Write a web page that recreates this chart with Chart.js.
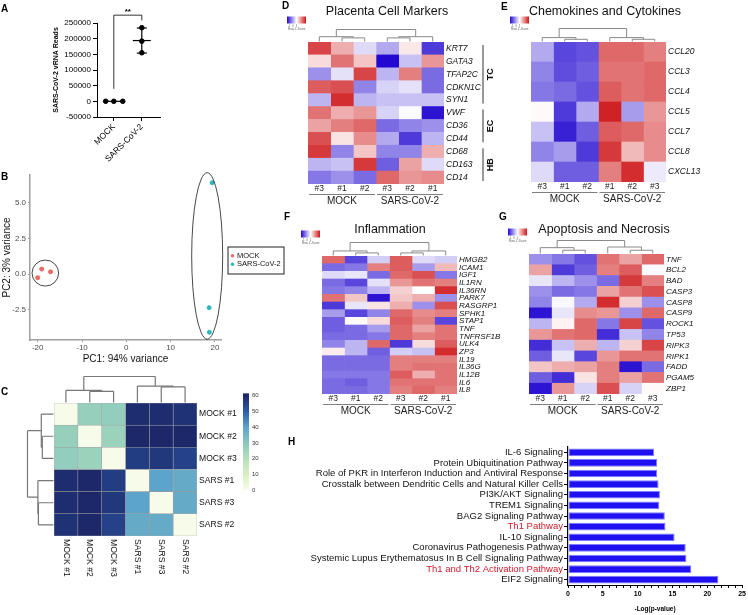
<!DOCTYPE html>
<html>
<head>
<meta charset="utf-8">
<script src="https://cdn.jsdelivr.net/npm/chart.js@4.4.1/dist/chart.umd.min.js"></script>
<style>
  body { margin: 0; background: #fff; }
  #fig { position: relative; width: 748px; height: 615px; overflow: hidden; font-family: 'Liberation Sans', Arial, sans-serif; }
  .box { position: absolute; }
  .lbl { position: absolute; font-weight: bold; font-size: 10px; line-height: 12px; color: #000; }
  .ttl { position: absolute; width: 300px; text-align: center; font-size: 12.5px; line-height: 14px; color: #111; }
</style>
</head>
<body>
<div id="fig">
  <div class="box" id="boxA"><canvas></canvas></div>
  <div class="box" id="boxB"><canvas></canvas></div>
  <div class="box" id="boxC"><canvas></canvas></div>
  <div class="box" id="boxD"><canvas></canvas></div>
  <div class="box" id="boxE"><canvas></canvas></div>
  <div class="box" id="boxF"><canvas></canvas></div>
  <div class="box" id="boxG"><canvas></canvas></div>
  <div class="box" id="boxH"><canvas></canvas></div>

  <div class="lbl" style="left:1px;top:3px">A</div>
  <div class="lbl" style="left:1px;top:171px">B</div>
  <div class="lbl" style="left:1px;top:386px">C</div>
  <div class="lbl" style="left:282px;top:0px">D</div>
  <div class="lbl" style="left:501px;top:1px">E</div>
  <div class="lbl" style="left:284px;top:211px">F</div>
  <div class="lbl" style="left:499px;top:211px">G</div>
  <div class="lbl" style="left:288px;top:436px">H</div>

  <div class="ttl" style="left:237px;top:4px">Placenta Cell Markers</div>
  <div class="ttl" style="left:455px;top:4px">Chemokines and Cytokines</div>
  <div class="ttl" style="left:240px;top:222px">Inflammation</div>
  <div class="ttl" style="left:454px;top:222px">Apoptosis and Necrosis</div>
</div>

<script>
// ---- A: vRNA reads
const groupsA = ['MOCK', 'SARS-CoV-2'];
const mockReads = [150, 60, 110];
const sarsReads = [235000, 192000, 155000];
const jitterA = [[-0.29, 0, 0.32], [0, 0, 0]];
const readTicks = [-50000, 0, 50000, 100000, 150000, 200000, 250000];

// ---- B: PCA
const mockPC1 = [-20.0, -19.1, -17.1];
const mockPC2 = [-0.24, 0.36, 0.17];
const sarsPC1 = [19.4, 18.7, 18.75];
const sarsPC2 = [6.4, -2.34, -4.06];
const mockEllipse = [-18.28, 0.08, 3.0, 0.91]; // cx, cy, rx, ry
const sarsEllipse = [18.26, 1.28, 3.5, 5.82];
const pcTicksX = [-20, -10, 0, 10, 20];
const pcTicksY = [-2.5, 0, 2.5, 5.0];

// ---- C: sample distances
const samplesC = ['MOCK #1', 'MOCK #2', 'MOCK #3', 'SARS #1', 'SARS #3', 'SARS #2'];
const distC = [
  [0, 27, 28, 59, 59, 58],
  [27, 0, 26, 61, 61, 60],
  [28, 26, 0, 56, 57, 55],
  [59, 61, 56, 0, 40, 38],
  [59, 61, 57, 40, 0, 38],
  [58, 60, 55, 38, 38, 0],
];
const distTicks = [0, 10, 20, 30, 40, 50, 60];

// ---- D: placenta cell markers
const colsD = ['#3', '#1', '#2', '#3', '#2', '#1'];
const genesD = ['KRT7', 'GATA3', 'TFAP2C', 'CDKN1C', 'SYN1', 'VWF', 'CD36', 'CD44', 'CD68', 'CD163', 'CD14'];
const zD = [
  [0.8, 0.35, -0.15, -0.35, 0.1, -0.8],
  [0.15, 0.6, 0.25, -1.0, -0.25, 0.45],
  [-0.45, -0.12, 0.8, -0.3, 0.55, -0.6],
  [0.7, 0.75, -0.5, -0.18, -0.12, -0.6],
  [-0.3, 0.9, -0.3, -0.25, -0.25, -0.25],
  [0.6, 0.35, 0.45, -0.18, -0.02, -0.95],
  [0.4, 0.55, 0.65, -0.6, -0.5, -0.45],
  [0.75, 0.12, 0.5, -0.35, -0.8, -0.3],
  [0.85, -0.5, 0.25, -0.5, -0.5, 0.35],
  [-0.3, -0.25, 0.85, -0.65, 0.4, -0.15],
  [-0.55, -0.45, -0.6, 0.65, 0.45, 0.5],
];
const cellTypesD = [['TC', 0, 4], ['EC', 5, 7], ['HB', 8, 10]];

// ---- E: chemokines and cytokines
const colsE = ['#3', '#1', '#2', '#1', '#2', '#3'];
const genesE = ['CCL20', 'CCL3', 'CCL4', 'CCL5', 'CCL7', 'CCL8', 'CXCL13'];
const zE = [
  [-0.35, -0.75, -0.7, 0.65, 0.65, 0.55],
  [-0.5, -0.72, -0.65, 0.6, 0.6, 0.65],
  [-0.55, -0.6, -0.7, 0.7, 0.6, 0.65],
  [0.02, -0.8, -0.35, 0.95, -0.4, 0.45],
  [-0.25, -0.9, -0.65, 0.7, 0.65, 0.5],
  [-0.5, -0.4, -0.8, 0.85, 0.3, 0.5],
  [-0.15, -0.65, -0.65, 0.55, 0.9, -0.08],
];

// ---- F: inflammation
const colsF = ['#3', '#1', '#2', '#3', '#2', '#1'];
const genesF = ['HMGB2', 'ICAM1', 'IGF1', 'IL1RN', 'IL36RN', 'PARK7', 'RASGRP1', 'SPHK1', 'STAP1', 'TNF',
  'TNFRSF1B', 'ULK4', 'ZP3', 'IL19', 'IL36G', 'IL12B', 'IL6', 'IL8'];
const zF = [
  [0.65, -0.75, -0.2, 0.7, -0.15, -0.2],
  [-0.6, -0.55, 0.55, 0.7, -0.4, 0.3],
  [-0.15, -0.1, -0.6, 0.65, 0.75, -0.55],
  [-0.6, -0.75, -0.12, 0.45, 0.6, 0.55],
  [-0.55, -0.5, -0.3, 0.2, 0.0, 0.9],
  [0.6, 0.25, -0.95, 0.25, 0.35, -0.45],
  [-0.8, -0.1, 0.12, 0.35, -0.45, 0.75],
  [-0.4, -0.75, -0.5, 0.65, 0.5, 0.55],
  [-0.65, 0.02, 0.15, 0.7, 0.55, -0.75],
  [-0.65, -0.6, -0.4, 0.65, 0.4, 0.6],
  [-0.6, -0.6, -0.55, 0.65, 0.55, 0.6],
  [-0.5, -0.3, 0.65, -0.8, 0.15, 0.7],
  [0.08, -0.3, -0.65, -0.2, -0.25, 0.9],
  [-0.6, -0.6, -0.6, 0.55, 0.55, 0.55],
  [-0.6, -0.6, -0.6, 0.55, 0.6, 0.6],
  [-0.55, -0.55, -0.55, 0.7, 0.35, 0.6],
  [-0.6, -0.65, -0.55, 0.6, 0.6, 0.6],
  [-0.6, -0.6, -0.55, 0.55, 0.65, 0.55],
];

// ---- G: apoptosis and necrosis
const colsG = ['#3', '#1', '#2', '#1', '#2', '#3'];
const genesG = ['TNF', 'BCL2', 'BAD', 'CASP3', 'CASP8', 'CASP9', 'ROCK1', 'TP53', 'RIPK3', 'RIPK1', 'FADD', 'PGAM5', 'ZBP1'];
const zG = [
  [-0.45, -0.55, -0.7, 0.6, 0.4, 0.65],
  [0.4, -0.8, -0.65, 0.55, 0.7, -0.02],
  [-0.1, -0.3, -0.45, -0.6, 0.85, 0.55],
  [-0.45, -0.6, -0.55, 0.4, 0.6, 0.75],
  [-0.5, -0.03, -0.35, 0.9, 0.2, -0.45],
  [-0.95, -0.1, 0.5, 0.45, -0.45, 0.65],
  [-0.3, 0.05, 0.65, -0.55, 0.8, -0.7],
  [0.45, 0.6, 0.65, -0.85, -0.25, -0.5],
  [-0.85, -0.25, 0.35, -0.3, 0.2, 0.8],
  [-0.65, -0.1, -0.75, 0.45, 0.6, 0.6],
  [0.25, 0.35, 0.4, 0.55, -0.95, -0.6],
  [-0.65, -0.85, 0.12, 0.55, 0.4, 0.6],
  [-0.95, 0.45, -0.18, 0.75, -0.18, 0.02],
];

// ---- H: pathways
const pathways = ['IL-6 Signaling', 'Protein Ubiquitination Pathway',
  'Role of PKR in Interferon Induction and Antiviral Response',
  'Crosstalk between Dendritic Cells and Natural Killer Cells', 'PI3K/AKT Signaling', 'TREM1 Signaling',
  'BAG2 Signaling Pathway', 'Th1 Pathway', 'IL-10 Signaling', 'Coronavirus Pathogenesis Pathway',
  'Systemic Lupus Erythematosus In B Cell Signaling Pathway', 'Th1 and Th2 Activation Pathway', 'EIF2 Signaling'];
const pathwayScores = [12.35, 12.8, 12.8, 13.0, 13.2, 13.1, 13.9, 14.0, 15.3, 16.9, 17.0, 17.7, 21.6];
const redPaths = ['Th1 Pathway', 'Th1 and Th2 Activation Pathway'];

const FONT = "'Liberation Sans', Arial, sans-serif";
Chart.defaults.font.family = FONT;
Chart.defaults.color = '#111';
Chart.defaults.animation = false;
Chart.defaults.responsive = true;
Chart.defaults.maintainAspectRatio = false;
Chart.defaults.plugins.legend.display = false;
Chart.defaults.plugins.tooltip.enabled = false;

function place(id, box) {
  const el = document.getElementById(id);
  el.style.left = box[0] + 'px';
  el.style.top = box[1] + 'px';
  el.style.width = box[2] + 'px';
  el.style.height = box[3] + 'px';
  return el.querySelector('canvas');
}

function zColor(v) {
  const t = Math.min(1, Math.abs(v));
  const end = v < 0 ? [34, 8, 208] : [206, 22, 24];
  const c = end.map(e => Math.round(255 + (e - 255) * t));
  return 'rgb(' + c.join(',') + ')';
}

const ylgnbu = [[0, [247, 252, 234]], [10, [218, 240, 192]], [20, [181, 224, 186]], [30, [138, 200, 190]],
  [40, [92, 164, 203]], [50, [45, 92, 165]], [60, [28, 40, 106]]];
function distColor(v) {
  for (let k = 1; k < ylgnbu.length; k++) {
    const [v1, c1] = ylgnbu[k];
    const [v0, c0] = ylgnbu[k - 1];
    if (v <= v1 || k === ylgnbu.length - 1) {
      const t = Math.max(0, Math.min(1, (v - v0) / (v1 - v0)));
      return 'rgb(' + c0.map((c, i) => Math.round(c + (c1[i] - c) * t)).join(',') + ')';
    }
  }
}

function mean(a) { return a.reduce((s, v) => s + v, 0) / a.length; }
function sd(a) { const m = mean(a); return Math.sqrt(a.reduce((s, v) => s + (v - m) ** 2, 0) / (a.length - 1)); }

// dendrogram: node = leaf index or [left, right, height fraction]
function drawTree(ctx, node, pos, base, size, horiz) {
  if (typeof node === 'number') return { p: pos(node), h: 0 };
  const a = drawTree(ctx, node[0], pos, base, size, horiz);
  const b = drawTree(ctx, node[1], pos, base, size, horiz);
  const h = node[2] * size;
  const seg = (p1, h1, p2, h2) => {
    if (horiz) { ctx.moveTo(base - h1, p1); ctx.lineTo(base - h2, p2); }
    else { ctx.moveTo(p1, base - h1); ctx.lineTo(p2, base - h2); }
  };
  ctx.beginPath();
  seg(a.p, a.h, a.p, h);
  seg(a.p, h, b.p, h);
  seg(b.p, h, b.p, b.h);
  ctx.stroke();
  return { p: (a.p + b.p) / 2, h };
}

function heatmap(id, cfg) {
  const [L, T, W, H] = cfg.box;
  const [x0, y0, x1, y1] = cfg.area;
  const n = cfg.cols.length;
  const showCols = cfg.showCols !== false;
  const axisH = showCols ? 13 : 0;

  const decor = {
    id: 'heatDecor',
    afterDraw(chart) {
      const { ctx, chartArea: a, scales: { x, y } } = chart;
      const colX = j => x.getPixelForValue(j + 0.5);
      const rowY = i => y.getPixelForValue(i);
      const rowH = (a.bottom - a.top) / cfg.rows.length;
      ctx.save();
      ctx.strokeStyle = cfg.treeColor || '#8a8a8a';
      ctx.lineWidth = cfg.treeWidth || 1;
      if (cfg.colTree) drawTree(ctx, cfg.colTree, colX, a.top - 0.5, cfg.treeH, false);
      if (cfg.rowTree) drawTree(ctx, cfg.rowTree, rowY, a.left - 0.5, cfg.treeH, true);

      if (cfg.groups) {
        ctx.strokeStyle = '#808080';
        ctx.lineWidth = 1;
        ctx.fillStyle = '#222';
        ctx.font = '10px ' + FONT;
        ctx.textAlign = 'center';
        ctx.textBaseline = 'middle';
        cfg.groups.forEach(([name, from, to]) => {
          const l = x.getPixelForValue(from) + 1, r = x.getPixelForValue(to) - 1;
          ctx.beginPath();
          ctx.moveTo(l, a.bottom + 10.5);
          ctx.lineTo(r, a.bottom + 10.5);
          ctx.stroke();
          ctx.fillText(name, (l + r) / 2, a.bottom + 17.5);
        });
      }

      if (cfg.brackets) {
        const bx = a.right + 39;
        ctx.strokeStyle = '#333';
        ctx.fillStyle = '#111';
        ctx.font = 'bold 9px ' + FONT;
        ctx.textAlign = 'center';
        ctx.textBaseline = 'middle';
        cfg.brackets.forEach(([name, from, to]) => {
          const t = rowY(from) - rowH / 2 + 3, b = rowY(to) + rowH / 2 - 3;
          ctx.beginPath();
          ctx.moveTo(bx, t);
          ctx.lineTo(bx, b);
          ctx.stroke();
          ctx.save();
          ctx.translate(bx + 8, (t + b) / 2);
          ctx.rotate(-Math.PI / 2);
          ctx.fillText(name, 0, 0);
          ctx.restore();
        });
      }

      if (cfg.zKey) {
        const kx = a.left - 21, ky = a.top - 25.5;
        const g = ctx.createLinearGradient(kx, 0, kx + 19, 0);
        g.addColorStop(0, zColor(-1));
        g.addColorStop(0.5, '#ffffff');
        g.addColorStop(1, zColor(1));
        ctx.fillStyle = g;
        ctx.fillRect(kx, ky, 19, 7);
        ctx.fillStyle = '#666';
        ctx.font = '3px ' + FONT;
        ctx.textAlign = 'left';
        ctx.textBaseline = 'top';
        ctx.fillText('-1  0  1', kx + 1, ky + 8);
        ctx.fillText('Row Z-Score', kx + 1, ky + 11.5);
      }

      if (cfg.rotatedCols) {
        ctx.fillStyle = '#111';
        ctx.font = '8.6px ' + FONT;
        ctx.textAlign = 'left';
        ctx.textBaseline = 'middle';
        cfg.cols.forEach((c, j) => {
          ctx.save();
          ctx.translate(colX(j), a.bottom + 3);
          ctx.rotate(Math.PI / 2);
          ctx.fillText(c, 0, 0);
          ctx.restore();
        });
      }

      if (cfg.colorbar) {
        const cx = a.right + 46;
        const yOf = v => a.top + 87 - v * (94.3 / 60);
        const g = ctx.createLinearGradient(0, yOf(0), 0, yOf(60));
        cfg.colorbar.forEach(v => g.addColorStop(v / 60, distColor(v)));
        ctx.fillStyle = g;
        ctx.fillRect(cx, yOf(61.5), 6, yOf(0) - yOf(61.5));
        ctx.fillStyle = '#333';
        ctx.font = '6px ' + FONT;
        ctx.textAlign = 'left';
        ctx.textBaseline = 'middle';
        cfg.colorbar.forEach(v => ctx.fillText(String(v), cx + 9, yOf(v)));
      }
      ctx.restore();
    }
  };

  const datasets = cfg.cols.map((c, j) => ({
    data: cfg.rows.map(() => [j, j + 1]),
    backgroundColor: cfg.rows.map((r, i) => cfg.color(cfg.values[i][j])),
    borderColor: cfg.cellBorder || 'rgba(0,0,0,0)',
    borderWidth: cfg.cellBorder ? 0.6 : 0,
    borderSkipped: false,
    grouped: false,
    barPercentage: 1,
    categoryPercentage: 1,
  }));

  return new Chart(place(id, cfg.box), {
    type: 'bar',
    data: { labels: cfg.rows, datasets },
    options: {
      indexAxis: 'y',
      layout: { padding: { left: x0 - L, top: y0 - T, right: 0, bottom: T + H - y1 - axisH } },
      scales: {
        x: {
          type: 'linear', min: 0, max: n, position: 'bottom', display: showCols,
          grid: { display: false, drawTicks: false, tickLength: 0 }, border: { display: false },
          afterBuildTicks: s => { s.ticks = cfg.cols.map((c, i) => ({ value: i + 0.5 })); },
          afterFit: s => { s.height = axisH; },
          ticks: { padding: 0, autoSkip: false, maxRotation: 0, font: { size: 8.5 }, color: '#222',
            callback: (v, i) => cfg.cols[i] },
        },
        y: {
          position: 'right', grid: { display: false, drawTicks: false, tickLength: 0 }, border: { display: false },
          afterFit: s => { s.width = L + W - x1; },
          ticks: { padding: 2, autoSkip: false, color: '#111',
            font: { size: cfg.rowFont, style: cfg.italic ? 'italic' : 'normal' } },
        },
      },
    },
    plugins: [decor],
  });
}

// ---------- A
const errorBars = {
  id: 'errorBars',
  afterDatasetsDraw(chart) {
    const { ctx, scales: { x, y } } = chart;
    ctx.save();
    ctx.strokeStyle = '#000';
    ctx.lineWidth = 1.2;
    const ln = (a, b, c, d) => { ctx.beginPath(); ctx.moveTo(a, b); ctx.lineTo(c, d); ctx.stroke(); };
    [mockReads, sarsReads].forEach((vals, g) => {
      const m = mean(vals), s = sd(vals);
      const cx = x.getPixelForValue(g + 1);
      ln(cx - 9, y.getPixelForValue(m), cx + 9, y.getPixelForValue(m));
      if (s > 1000) {
        const yt = y.getPixelForValue(m + s), yb = y.getPixelForValue(m - s);
        ln(cx, yt, cx, yb);
        ln(cx - 5, yt, cx + 5, yt);
        ln(cx - 5, yb, cx + 5, yb);
      }
    });
    // significance bracket
    ctx.lineWidth = 0.8;
    const x1 = x.getPixelForValue(1), x2 = x.getPixelForValue(2);
    const top = y.getPixelForValue(275000);
    ctx.beginPath();
    ctx.moveTo(x1, y.getPixelForValue(40000));
    ctx.lineTo(x1, top);
    ctx.lineTo(x2, top);
    ctx.lineTo(x2, y.getPixelForValue(258000));
    ctx.stroke();
    ctx.fillStyle = '#000';
    ctx.font = 'bold 8px ' + FONT;
    ctx.textAlign = 'center';
    ctx.textBaseline = 'middle';
    ctx.fillText('**', (x1 + x2) / 2, top - 3);
    ctx.restore();
  }
};

new Chart(place('boxA', [0, 0, 200, 165]), {
  type: 'scatter',
  data: {
    datasets: [mockReads, sarsReads].map((vals, g) => ({
      label: groupsA[g],
      data: vals.map((v, i) => ({ x: g + 1 + jitterA[g][i], y: v })),
      pointRadius: 2.3, backgroundColor: '#000', borderColor: '#000',
    })),
  },
  options: {
    layout: { padding: { left: 52, top: 23, right: 40, bottom: 0 } },
    scales: {
      x: {
        type: 'linear', min: 0.4, max: 2.65,
        afterBuildTicks: s => { s.ticks = [{ value: 1 }, { value: 2 }]; },
        afterFit: s => { s.height = 48; },
        ticks: { callback: (v, i) => groupsA[i], minRotation: 45, maxRotation: 45, autoSkip: false,
          font: { size: 8.5 }, color: '#000', padding: 1 },
        grid: { drawOnChartArea: false, tickLength: 4, color: '#000' },
        border: { color: '#000', width: 1 },
      },
      y: {
        min: -50000, max: 250000,
        afterBuildTicks: s => { s.ticks = readTicks.map(value => ({ value })); },
        afterFit: s => { s.width = 45; },
        ticks: { callback: v => String(v), font: { size: 8 }, color: '#000', padding: 2 },
        grid: { drawOnChartArea: false, tickLength: 4, color: '#000' },
        border: { color: '#000', width: 1 },
        title: { display: true, text: 'SARS-CoV-2 vRNA Reads', font: { size: 7, weight: 'bold' }, color: '#000', padding: 0 },
      },
    },
  },
  plugins: [errorBars],
});

// ---------- B
const pcaDecor = {
  id: 'pcaDecor',
  afterDraw(chart) {
    const { ctx, chartArea: a, scales: { x, y } } = chart;
    ctx.save();
    ctx.strokeStyle = '#333';
    ctx.lineWidth = 0.9;
    [mockEllipse, sarsEllipse].forEach(([cx, cy, rx, ry]) => {
      const px = x.getPixelForValue(cx), py = y.getPixelForValue(cy);
      const prx = Math.abs(x.getPixelForValue(cx + rx) - px);
      const pry = Math.abs(y.getPixelForValue(cy + ry) - py);
      ctx.beginPath();
      ctx.ellipse(px, py, prx, pry, 0, 0, Math.PI * 2);
      ctx.stroke();
    });
    // legend box
    const lx = a.right + 7, ly = 87;
    ctx.strokeStyle = '#222';
    ctx.lineWidth = 1;
    ctx.strokeRect(lx, ly, 56, 27);
    ctx.font = '7.5px ' + FONT;
    ctx.textAlign = 'left';
    ctx.textBaseline = 'middle';
    chart.data.datasets.forEach((ds, i) => {
      const yy = ly + 8.7 + i * 8.6;
      ctx.fillStyle = ds.backgroundColor;
      ctx.beginPath();
      ctx.arc(lx + 4.5, yy, 1.7, 0, Math.PI * 2);
      ctx.fill();
      ctx.fillStyle = '#111';
      ctx.fillText(ds.label, lx + 9, yy);
    });
    ctx.restore();
  }
};

new Chart(place('boxB', [0, 160, 290, 215]), {
  type: 'scatter',
  data: {
    datasets: [
      { label: 'MOCK', data: mockPC1.map((v, i) => ({ x: v, y: mockPC2[i] })),
        backgroundColor: '#f0675e', borderColor: '#f0675e', pointRadius: 2 },
      { label: 'SARS-CoV-2', data: sarsPC1.map((v, i) => ({ x: v, y: sarsPC2[i] })),
        backgroundColor: '#2bb8bb', borderColor: '#2bb8bb', pointRadius: 2 },
    ],
  },
  options: {
    layout: { padding: { left: 0, top: 15, right: 69, bottom: 10 } },
    scales: {
      x: {
        min: -21.74, max: 21.38,
        afterBuildTicks: s => { s.ticks = pcTicksX.map(value => ({ value })); },
        afterFit: s => { s.height = 25; },
        ticks: { font: { size: 8 }, color: '#4d4d4d', padding: 1 },
        grid: { drawOnChartArea: false, tickLength: 2, color: '#999' },
        border: { color: '#a0a0a0', width: 1.5 },
        title: { display: true, text: 'PC1: 94% variance', font: { size: 10 }, color: '#111', padding: 0 },
      },
      y: {
        min: -4.6, max: 6.94,
        afterBuildTicks: s => { s.ticks = pcTicksY.map(value => ({ value })); },
        afterFit: s => { s.width = 30; },
        ticks: { callback: v => v.toFixed(1), font: { size: 8 }, color: '#4d4d4d', padding: 2 },
        grid: { drawOnChartArea: false, tickLength: 2, color: '#999' },
        border: { color: '#a0a0a0', width: 1.5 },
        title: { display: true, text: 'PC2: 3% variance', font: { size: 10 }, color: '#111', padding: { top: 1, bottom: 0 } },
      },
    },
  },
  plugins: [pcaDecor],
});

// ---------- C
heatmap('boxC', {
  box: [0, 368, 270, 247], area: [54, 403, 197, 536],
  rows: samplesC, cols: samplesC, values: distC, color: distColor,
  cellBorder: 'rgba(140,140,140,0.7)', showCols: false, rotatedCols: true,
  rowFont: 8.6, italic: false,
  colTree: [[0, [1, 2, 0.43], 0.47], [3, [4, 5, 0.6], 0.63], 1],
  rowTree: [[0, [1, 2, 0.43], 0.47], [3, [4, 5, 0.58], 0.6], 1],
  treeH: 26, treeColor: '#777', treeWidth: 1.2,
  colorbar: distTicks,
});

// ---------- D
const groupsMS = [['MOCK', 0, 3], ['SARS-CoV-2', 3, 6]];
heatmap('boxD', {
  box: [280, 0, 220, 215], area: [308, 42, 444, 184],
  rows: genesD, cols: colsD, values: zD, color: zColor,
  rowFont: 8.5, italic: true, groups: groupsMS, brackets: cellTypesD, zKey: true,
  colTree: [[0, [1, 2, 0.3], 0.4], [[3, 4, 0.3], 5, 0.4], 1], treeH: 12,
});

// ---------- E
heatmap('boxE', {
  box: [500, 0, 248, 215], area: [531, 42, 666, 182],
  rows: genesE, cols: colsE, values: zE, color: zColor,
  rowFont: 8.5, italic: true, groups: groupsMS, zKey: true,
  colTree: [[0, [1, 2, 0.17], 0.3], [3, [4, 5, 0.17], 0.3], 1], treeH: 13,
});

// ---------- F
heatmap('boxF', {
  box: [290, 222, 215, 200], area: [322, 256, 457, 394],
  rows: genesF, cols: colsF, values: zF, color: zColor,
  rowFont: 8, italic: true, groups: groupsMS, zKey: true,
  colTree: [[0, [1, 2, 0.2], 0.35], [[3, 4, 0.2], 5, 0.35], 1], treeH: 13,
});

// ---------- G
heatmap('boxG', {
  box: [505, 222, 243, 200], area: [529, 254, 664, 394],
  rows: genesG, cols: colsG, values: zG, color: zColor,
  rowFont: 8, italic: true, groups: groupsMS, zKey: true,
  colTree: [[0, [1, 2, 0.25], 0.45], [3, [4, 5, 0.25], 0.5], 1], treeH: 13,
});

// ---------- H
new Chart(place('boxH', [270, 440, 478, 175]), {
  type: 'bar',
  data: {
    labels: pathways,
    datasets: [{
      data: pathwayScores, backgroundColor: '#1f10f2', borderColor: '#7c7cff', borderWidth: 1,
      borderSkipped: false, barPercentage: 0.72, categoryPercentage: 1,
    }],
  },
  options: {
    indexAxis: 'y',
    layout: { padding: { left: 0, top: 7, right: 5, bottom: 0 } },
    scales: {
      x: {
        min: 0, max: 25,
        afterFit: s => { s.height = 30; },
        ticks: { stepSize: 1, autoSkip: false, maxRotation: 0, padding: 2, font: { size: 7, weight: 'bold' }, color: '#000',
          callback: v => (v % 5 === 0 ? String(v) : '') },
        grid: { drawOnChartArea: false, tickLength: 3, color: '#000' },
        border: { color: '#000', width: 1 },
        title: { display: true, text: '-Log(p-value)', font: { size: 6.5, weight: 'bold' }, color: '#000', padding: { top: 0, bottom: 2 } },
      },
      y: {
        afterFit: s => { s.width = 298; },
        ticks: { autoSkip: false, padding: 1, font: { size: 9.5 },
          color: c => (redPaths.includes(pathways[c.index]) ? '#d2192b' : '#111') },
        grid: { drawOnChartArea: false, offset: false, tickLength: 4, color: '#000' },
        border: { color: '#000', width: 1.2 },
      },
    },
  },
});
</script>
</body>
</html>
